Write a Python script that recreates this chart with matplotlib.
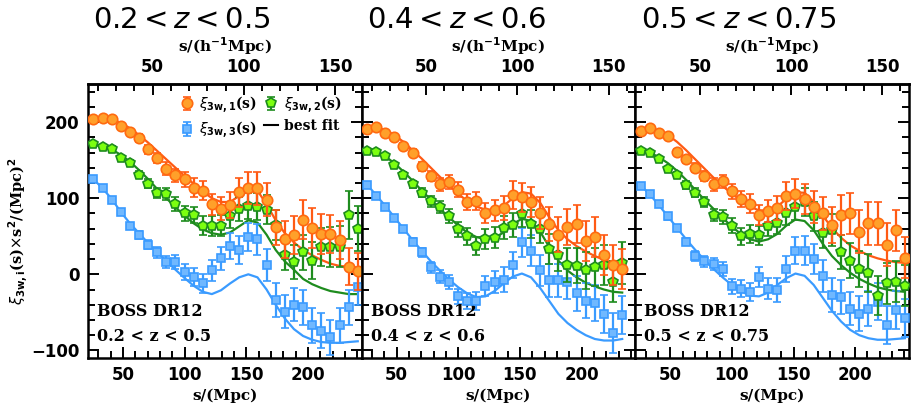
import matplotlib.pyplot as plt
from matplotlib.ticker import MultipleLocator, FixedLocator
from matplotlib.lines import Line2D

# separation bins (Mpc)
s = [25.9, 33.3, 40.7, 48.1, 55.5, 62.9, 70.3, 77.7, 85.1, 92.5,
     99.9, 107.2, 114.6, 122.0, 129.4, 136.8, 144.2, 151.6, 159.0, 166.4,
     173.8, 181.2, 188.6, 196.0, 203.4, 210.8, 218.2, 225.6, 233.0, 240.4]
h = 0.676

# 0.2 < z < 0.5
z1_xi1 = [204, 205, 204, 195, 187, 179, 164, 153, 139, 130, 125, 114, 110, 92, 86,
          91, 108, 114, 113, 98, 62, 46, 52, 72, 61, 53, 53, 45, 10, 4]
z1_xi1_err = [3, 3, 3, 3, 4, 5, 6, 7, 8, 9, 10, 12, 13, 14, 15, 17, 19, 21, 22, 22,
              23, 24, 25, 26, 26, 26, 25, 25, 24, 24]
z1_xi2 = [171, 167, 165, 153, 146, 131, 119, 107, 105, 92, 80, 78, 64, 63, 64,
          76, 86, 90, 89, 85, 65, 26, 16, 29, 18, 36, 36, 36, 78, 60]
z1_xi2_err = [2, 2, 3, 3, 4, 5, 6, 7, 8, 9, 10, 11, 12, 13, 14, 15, 16, 17, 18, 19,
              20, 21, 22, 23, 24, 25, 26, 27, 32, 30]
z1_xi3 = [125, 114, 98, 82, 64, 52, 39, 29, 16, 16, 3, -4, -12, 5, 21,
          37, 32, 49, 46, 12, -34, -49, -40, -43, -67, -74, -83, -67, -43, -17]
z1_xi3_err = [3, 3, 3, 4, 4, 5, 6, 7, 8, 9, 11, 12, 13, 14, 15, 17, 18, 19, 20, 21,
              22, 22, 22, 23, 23, 23, 23, 23, 23, 23]
z1_fit1 = [205, 206, 204, 199, 192, 183, 173, 162, 151, 140, 129, 119, 109, 100, 95,
           95, 103, 113, 110, 92, 71, 54, 42, 32, 25, 19, 14, 11, 10, 9]
z1_fit2 = [170, 168, 164, 157, 148, 137, 125, 112, 100, 88, 77, 67, 59, 54, 52,
           55, 63, 71, 68, 52, 32, 17, 6, -6, -13, -18, -22, -24, -26, -26]
z1_fit3 = [125, 113, 99, 82, 67, 54, 41, 29, 17, 6, -5, -15, -23, -26, -21,
           -12, -4, 0, -4, -20, -40, -58, -72, -81, -86, -89, -90, -90, -89, -88]

# 0.4 < z < 0.6
z2_xi1 = [191, 193, 186, 180, 169, 160, 142, 129, 118, 121, 111, 95, 96, 81, 84,
          87, 104, 101, 95, 80, 66, 52, 62, 66, 44, 49, 25, 12, 7]
z2_xi1_err = [3, 3, 3, 3, 4, 5, 6, 7, 8, 9, 10, 11, 12, 13, 14, 16, 18, 19, 20, 21,
              22, 23, 24, 25, 26, 26, 26, 26, 26]
z2_xi2 = [162, 161, 155, 143, 131, 118, 107, 96, 88, 77, 59, 50, 37, 46, 48,
          61, 65, 79, 66, 60, 33, 25, 12, 11, 5, 10, 12, -10, 15]
z2_xi2_err = [2, 2, 3, 3, 4, 5, 6, 7, 8, 9, 10, 11, 12, 13, 14, 15, 16, 17, 18, 19,
              20, 21, 22, 23, 24, 25, 26, 27, 28]
z2_xi3 = [117, 103, 89, 74, 59, 43, 29, 9, -3, -10, -29, -35, -35, -15, -10,
          -7, 12, 42, 31, 5, -8, -8, -10, -25, -35, -38, -52, -77, -54]
z2_xi3_err = [3, 3, 3, 4, 4, 5, 6, 7, 8, 9, 10, 11, 12, 13, 14, 16, 17, 19, 20, 21,
              22, 22, 22, 23, 23, 24, 25, 26, 25]
z2_fit1 = [192, 193, 190, 183, 174, 163, 152, 140, 128, 117, 106, 96, 89, 85, 85,
           90, 100, 108, 106, 94, 75, 58, 46, 37, 30, 24, 19, 15, 13]
z2_fit2 = [162, 160, 155, 146, 135, 123, 110, 98, 86, 75, 64, 55, 49, 46, 48,
           55, 66, 73, 70, 56, 36, 18, 5, -4, -11, -16, -20, -23, -24]
z2_fit3 = [118, 104, 90, 75, 60, 45, 31, 17, 5, -7, -17, -25, -30, -29, -22,
           -12, -3, 1, -4, -18, -35, -52, -64, -73, -80, -85, -87, -87, -85]

# 0.5 < z < 0.75
z3_xi1 = [188, 192, 186, 182, 161, 151, 140, 129, 118, 122, 109, 99, 93, 78, 83,
          87, 103, 106, 99, 89, 80, 65, 78, 80, 56, 67, 67, 39, 58, 22]
z3_xi1_err = [3, 3, 3, 3, 4, 5, 6, 7, 8, 9, 10, 11, 12, 13, 14, 16, 18, 19, 20, 21,
              22, 24, 26, 27, 28, 28, 28, 28, 27, 27]
z3_xi2 = [162, 159, 151, 138, 131, 117, 107, 95, 78, 75, 64, 50, 53, 51, 64,
          68, 81, 89, 95, 76, 54, 58, 29, 18, 7, 2, -28, -12, -10, -15]
z3_xi2_err = [2, 2, 3, 3, 4, 5, 6, 7, 8, 9, 10, 11, 12, 13, 14, 15, 16, 17, 18, 19,
              20, 21, 22, 23, 24, 25, 26, 27, 27, 27]
z3_xi3 = [116, 106, 92, 76, 61, 43, 24, 17, 14, 7, -16, -19, -23, -4, -19,
          -21, 7, 31, 31, 20, -2, -27, -30, -45, -52, -45, -36, -67, -47, -58]
z3_xi3_err = [3, 3, 3, 4, 4, 5, 6, 7, 8, 9, 10, 11, 12, 13, 14, 16, 17, 18, 19, 20,
              21, 22, 22, 22, 23, 23, 24, 25, 25, 25]
z3_fit1 = [190, 192, 189, 183, 174, 163, 151, 139, 127, 116, 106, 97, 89, 84, 84,
           89, 99, 108, 107, 95, 77, 61, 48, 38, 31, 25, 21, 18, 16, 15]
z3_fit2 = [162, 160, 154, 146, 136, 124, 111, 98, 86, 74, 63, 53, 46, 43, 46,
           53, 64, 72, 70, 58, 40, 24, 12, 2, -6, -12, -17, -20, -22, -23]
z3_fit3 = [117, 105, 91, 76, 61, 46, 32, 19, 7, -4, -14, -22, -28, -29, -24,
           -14, -5, 1, -2, -14, -31, -48, -62, -73, -80, -84, -86, -86, -85, -84]

titles = [r'$0.2 < z < 0.5$', r'$0.4 < z < 0.6$', r'$0.5 < z < 0.75$']
boxtext = ['0.2 < z < 0.5', '0.4 < z < 0.6', '0.5 < z < 0.75']

panels = [
    (z1_xi1, z1_xi1_err, z1_xi2, z1_xi2_err, z1_xi3, z1_xi3_err, z1_fit1, z1_fit2, z1_fit3),
    (z2_xi1, z2_xi1_err, z2_xi2, z2_xi2_err, z2_xi3, z2_xi3_err, z2_fit1, z2_fit2, z2_fit3),
    (z3_xi1, z3_xi1_err, z3_xi2, z3_xi2_err, z3_xi3, z3_xi3_err, z3_fit1, z3_fit2, z3_fit3),
]

# colours
or_line, or_face, or_edge = '#FF5A14', '#FFA02A', '#FF6A10'
gr_line, gr_face, gr_edge = '#1E8C1E', '#7CFF10', '#1E8C1E'
bl_line, bl_face, bl_edge = '#3A9BFF', '#70B8FF', '#3A9BFF'

plt.rcParams['mathtext.fontset'] = 'dejavusans'
tickfont = {'family': 'DejaVu Sans', 'weight': 'bold', 'size': 12}
labfont = {'family': 'DejaVu Serif', 'weight': 'bold', 'size': 11}

fig = plt.figure(figsize=(9.11, 4.05), dpi=100)
lefts = [0.0966, 0.3969, 0.6972]
w, b, ht = 0.3003, 0.1160, 0.6765

for k, data in enumerate(panels):
    xi1, e1, xi2, e2, xi3, e3, f1, f2, f3 = data
    n = len(xi1)
    x = s[:n]
    ax = fig.add_axes([lefts[k], b, w, ht])

    ax.plot(x, f3, color=bl_line, lw=1.6, zorder=2)
    ax.plot(x, f2, color=gr_line, lw=1.6, zorder=2)
    ax.plot(x, f1, color=or_line, lw=1.6, zorder=2)

    eb3 = ax.errorbar(x, xi3, yerr=e3, fmt='s', ms=6, mfc=bl_face, mec=bl_edge, mew=1.2,
                      ecolor=bl_line, elinewidth=1.6, capsize=3, capthick=1.6, zorder=3)
    eb2 = ax.errorbar(x, xi2, yerr=e2, fmt='p', ms=7.5, mfc=gr_face, mec=gr_edge, mew=1.2,
                      ecolor=gr_line, elinewidth=1.6, capsize=3, capthick=1.6, zorder=4)
    eb1 = ax.errorbar(x, xi1, yerr=e1, fmt='o', ms=7.5, mfc=or_face, mec=or_edge, mew=1.2,
                      ecolor=or_line, elinewidth=1.6, capsize=3, capthick=1.6, zorder=5)

    ax.set_xlim(21.5, 243.5)
    ax.set_ylim(-110, 250)
    ax.xaxis.set_major_locator(FixedLocator([50, 100, 150, 200]))
    ax.xaxis.set_minor_locator(MultipleLocator(10))
    ax.yaxis.set_major_locator(MultipleLocator(100))
    ax.yaxis.set_minor_locator(MultipleLocator(20))
    ax.tick_params(which='both', direction='in', width=1.4, left=True, right=True,
                   bottom=True, top=False, pad=6)
    ax.tick_params(which='major', length=8)
    ax.tick_params(which='minor', length=5)
    for sp in ax.spines.values():
        sp.set_linewidth(1.8)
    for lab in ax.get_xticklabels() + ax.get_yticklabels():
        lab.set_fontproperties(tickfont)
    if k > 0:
        ax.set_yticklabels([])
    ax.set_xlabel('s/(Mpc)', fontdict=labfont, labelpad=3)

    sec = ax.secondary_xaxis('top', functions=(lambda v: v * h, lambda v: v / h))
    sec.set_xticks([50, 100, 150])
    sec.xaxis.set_minor_locator(MultipleLocator(10))
    sec.tick_params(which='both', direction='in', width=1.4, pad=6)
    sec.tick_params(which='major', length=8)
    sec.tick_params(which='minor', length=5)
    sec.spines['top'].set_linewidth(1.8)
    for lab in sec.get_xticklabels():
        lab.set_fontproperties(tickfont)
    sec.set_xlabel(r's/(h$^{\mathbf{-1}}$Mpc)', fontdict=labfont, labelpad=4)

    ax.text(0.033, 0.168, 'BOSS DR12', transform=ax.transAxes, va='center',
            family='DejaVu Serif', weight='bold', size=11.5)
    ax.text(0.033, 0.077, boxtext[k], transform=ax.transAxes, va='center',
            family='DejaVu Serif', weight='bold', size=11.5)

    fig.text(lefts[k] + 0.006, 0.951, titles[k], fontsize=21, va='center', ha='left')

    if k == 0:
        best = Line2D([], [], color='black', lw=1.5)
        leg = ax.legend([eb1, eb3, eb2, best],
                        [r'$\xi_{\mathbf{3w,1}}$(s)', r'$\xi_{\mathbf{3w,3}}$(s)',
                         r'$\xi_{\mathbf{3w,2}}$(s)', 'best fit'],
                        ncol=2, loc='upper left', bbox_to_anchor=(0.3, 1.0),
                        frameon=False, handlelength=1.0, handletextpad=0.4,
                        columnspacing=0.5, labelspacing=0.3, borderaxespad=0.3,
                        prop={'family': 'DejaVu Serif', 'weight': 'bold', 'size': 10})

fig.text(0.02, 0.43, r'$\xi_{\mathbf{3w,i}}$(s)$\times$s$^{\mathbf{2}}$/(Mpc)$^{\mathbf{2}}$',
         rotation=90, va='center', ha='center', family='DejaVu Serif', weight='bold', size=10.5)

plt.savefig('out.png', dpi=100)
